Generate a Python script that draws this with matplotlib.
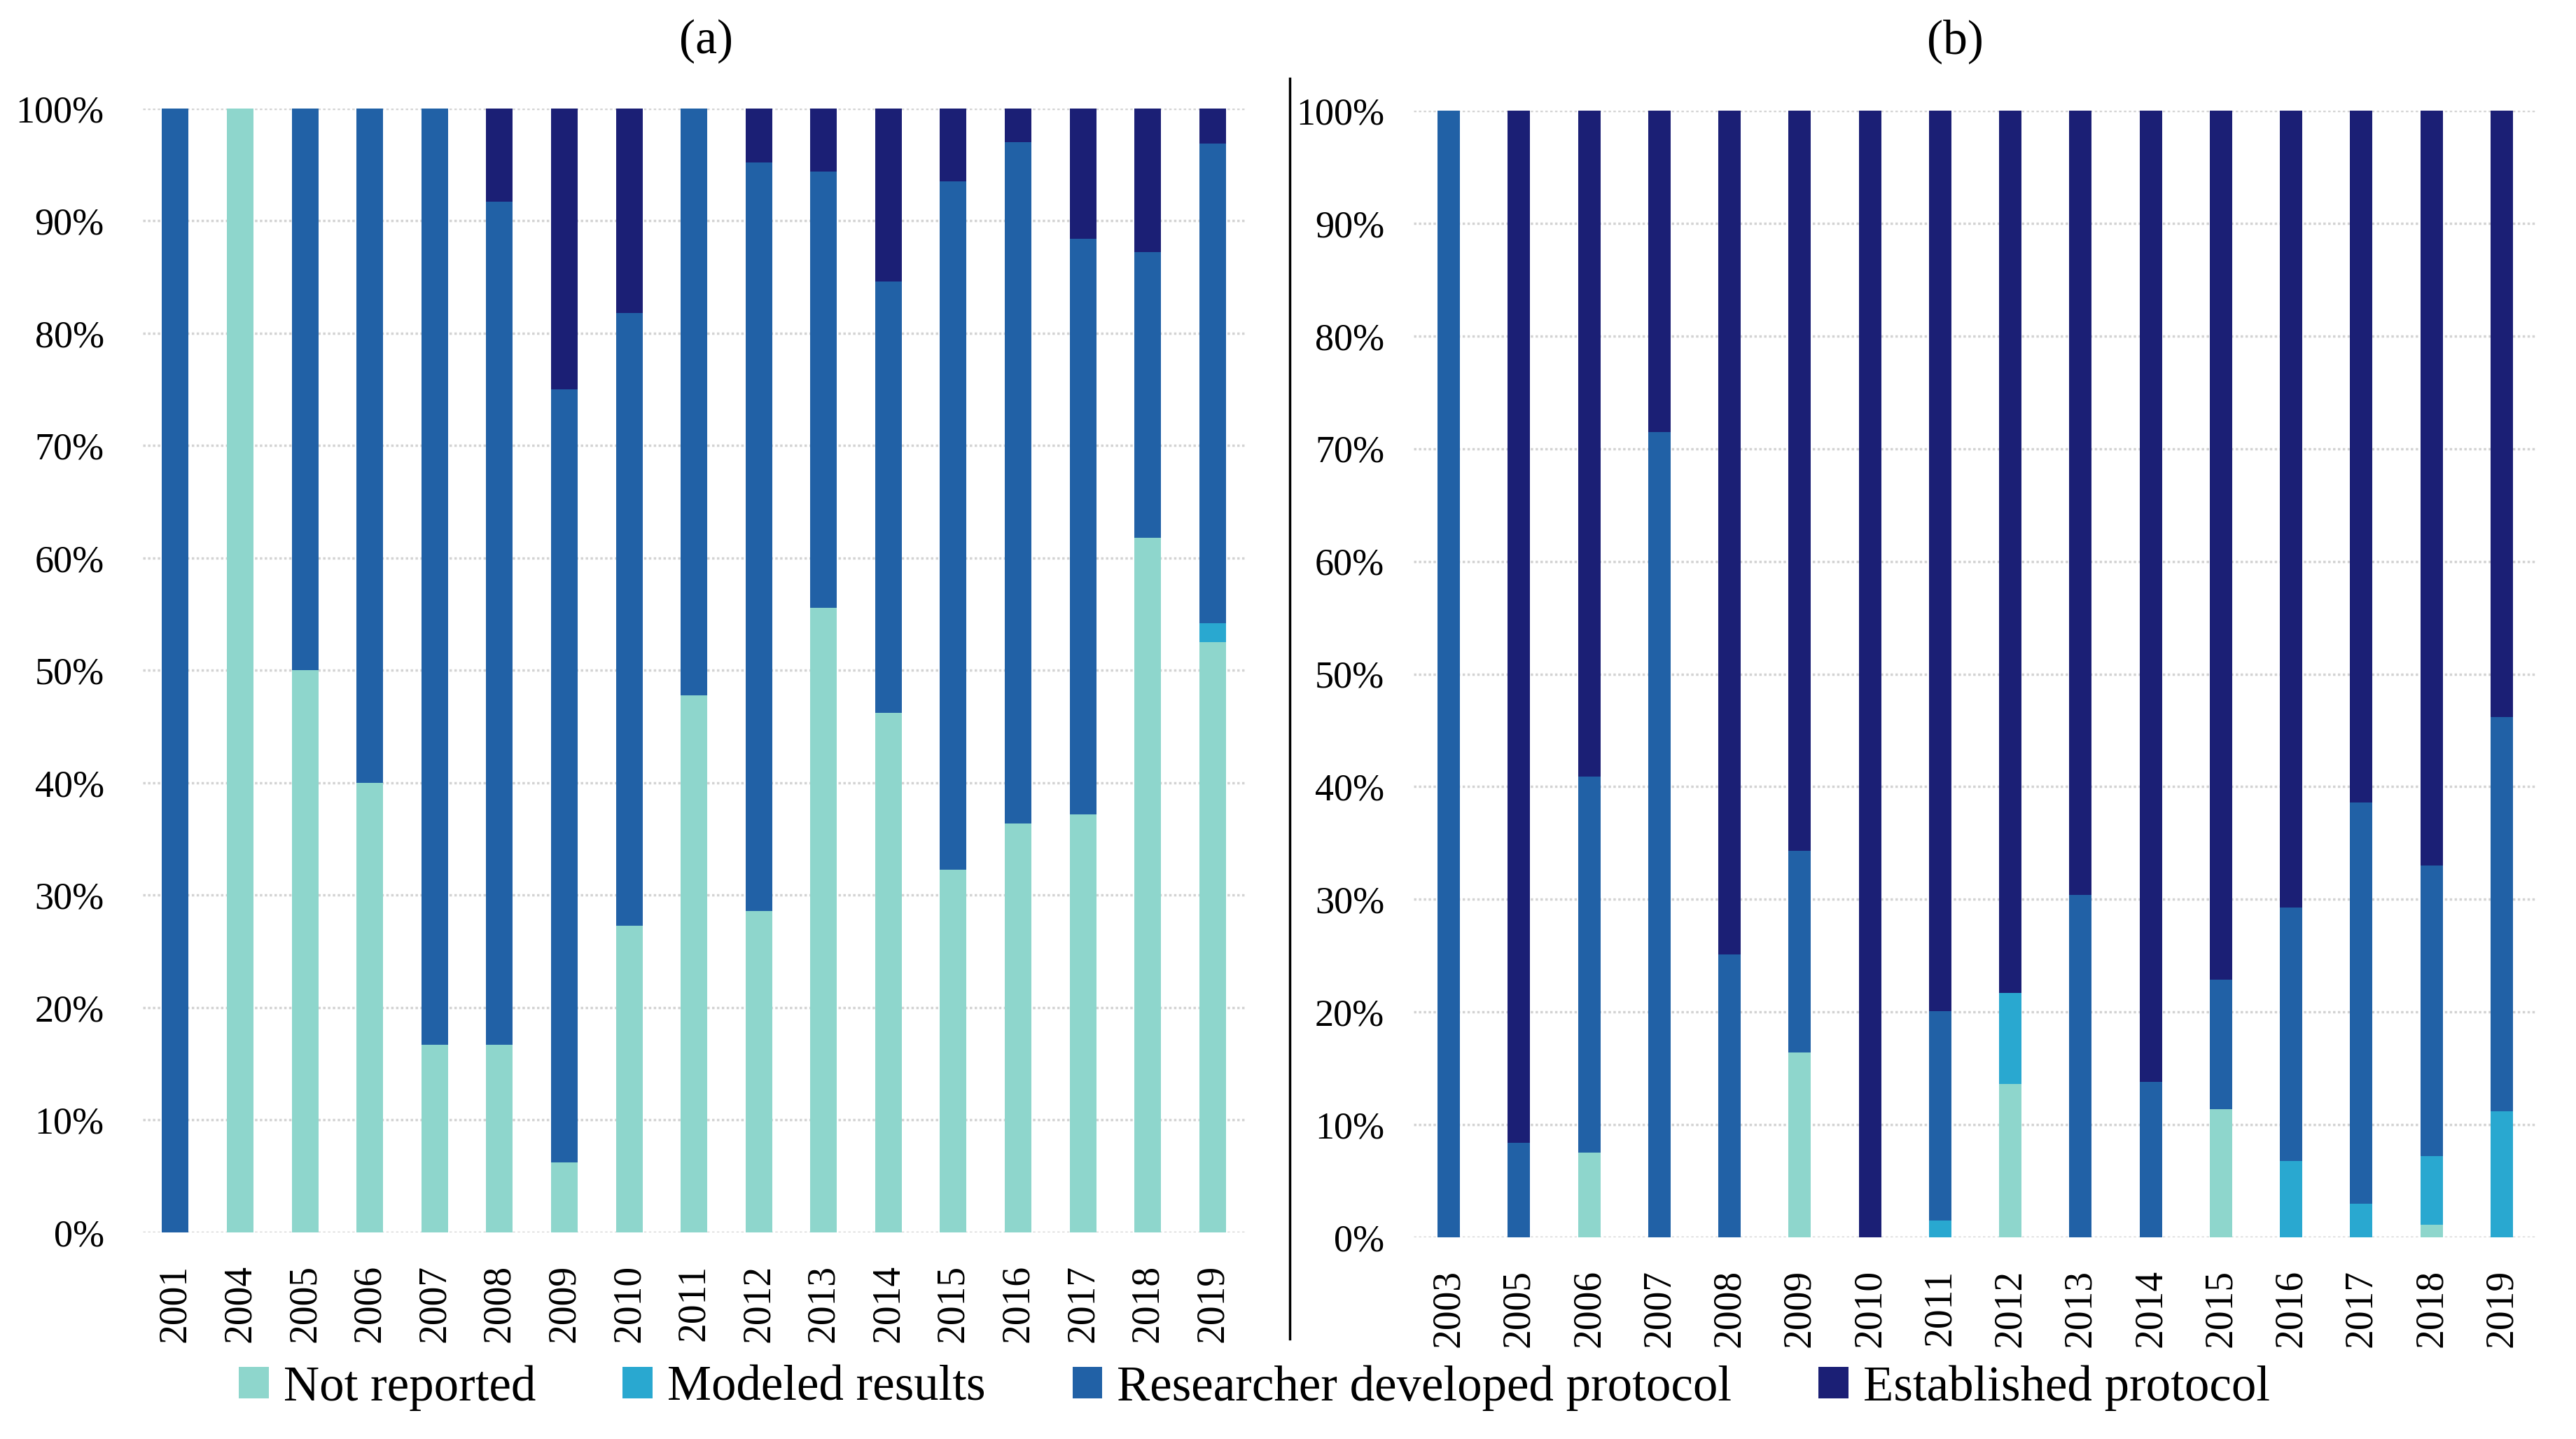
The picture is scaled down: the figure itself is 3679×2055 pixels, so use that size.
import matplotlib
matplotlib.use("Agg")
import matplotlib.pyplot as plt
from matplotlib.lines import Line2D
from matplotlib.ticker import PercentFormatter

plt.rcParams["font.family"] = ["Liberation Serif", "DejaVu Serif"]

series = ["Not reported", "Modeled results", "Researcher developed protocol", "Established protocol"]
colors = ["#8ED6CC", "#29A8D0", "#2161A6", "#1B1F75"]

# panel (a), percent shares
years_a = ["2001", "2004", "2005", "2006", "2007", "2008", "2009", "2010", "2011",
           "2012", "2013", "2014", "2015", "2016", "2017", "2018", "2019"]
not_rep_a = [0, 100, 50, 40, 16.7, 16.7, 6.25, 27.3, 47.8, 28.6, 55.6, 46.2, 32.3, 36.4, 37.2, 61.8, 52.5]
modeled_a = [0, 0, 0, 0, 0, 0, 0, 0, 0, 0, 0, 0, 0, 0, 0, 0, 1.7]
research_a = [100, 0, 50, 60, 83.3, 75.0, 68.75, 54.5, 52.2, 66.6, 38.8, 38.4, 61.2, 60.6, 51.2, 25.4, 42.7]
establ_a = [0, 0, 0, 0, 0, 8.3, 25.0, 18.2, 0, 4.8, 5.6, 15.4, 6.5, 3.0, 11.6, 12.8, 3.1]

# panel (b), percent shares
years_b = ["2003", "2005", "2006", "2007", "2008", "2009", "2010", "2011",
           "2012", "2013", "2014", "2015", "2016", "2017", "2018", "2019"]
not_rep_b = [0, 0, 7.5, 0, 0, 16.4, 0, 0, 13.6, 0, 0, 11.4, 0, 0, 1.1, 0]
modeled_b = [0, 0, 0, 0, 0, 0, 0, 1.5, 8.1, 0, 0, 0, 6.8, 3.0, 6.1, 11.2]
research_b = [100, 8.4, 33.4, 71.5, 25.1, 17.9, 0, 18.6, 0, 30.4, 13.8, 11.5, 22.5, 35.6, 25.8, 35.0]
establ_b = [0, 91.6, 59.1, 28.5, 74.9, 65.7, 100, 79.9, 78.3, 69.6, 86.2, 77.1, 70.7, 61.4, 67.0, 53.8]


def draw_panel(ax, years, parts, width, ypad):
    x = list(range(len(years)))
    bottom = [0.0] * len(years)
    for vals, col, name in zip(parts, colors, series):
        ax.bar(x, vals, width=width, bottom=bottom, color=col, label=name, zorder=3)
        bottom = [b + v for b, v in zip(bottom, vals)]
    ax.set_ylim(0, 100)
    ax.set_xlim(-0.5, len(years) - 0.5)
    ax.set_yticks(range(0, 101, 10))
    ax.yaxis.set_major_formatter(PercentFormatter(decimals=0))
    ax.set_xticks(x)
    ax.set_xticklabels(years, rotation=90)
    ax.grid(axis="y", color="#D3D3D3", linewidth=2.5, linestyle=(0, (1, 1)), zorder=0)
    for s in ax.spines.values():
        s.set_visible(False)
    ax.tick_params(axis="both", length=0)
    ax.tick_params(axis="y", pad=ypad, labelsize=39)
    ax.tick_params(axis="x", pad=33, labelsize=40)


fig = plt.figure(figsize=(36.79, 20.55), dpi=100)
ax_a = fig.add_axes([0.0555, 0.1436, 0.4278, 0.781])
ax_b = fig.add_axes([0.5488, 0.1401, 0.436, 0.783])

draw_panel(ax_a, years_a, [not_rep_a, modeled_a, research_a, establ_a], 0.41, 40)
draw_panel(ax_b, years_b, [not_rep_b, modeled_b, research_b, establ_b], 0.32, 30)

fig.text(0.274, 0.971, "(a)", ha="center", va="center", fontsize=50)
fig.text(0.759, 0.971, "(b)", ha="center", va="center", fontsize=50)

# separator line between the panels
fig.add_artist(Line2D([0.5007, 0.5007], [0.0696, 0.9455], color="black", linewidth=2.5))

handles, labels = ax_a.get_legend_handles_labels()
fig.legend(handles, labels, loc="center", bbox_to_anchor=(0.487, 0.0355), ncol=4,
           frameon=False, fontsize=51, handlelength=0.6, handleheight=0.6,
           handletextpad=0.3, columnspacing=1.75)

fig.savefig("out.png", dpi=100)
